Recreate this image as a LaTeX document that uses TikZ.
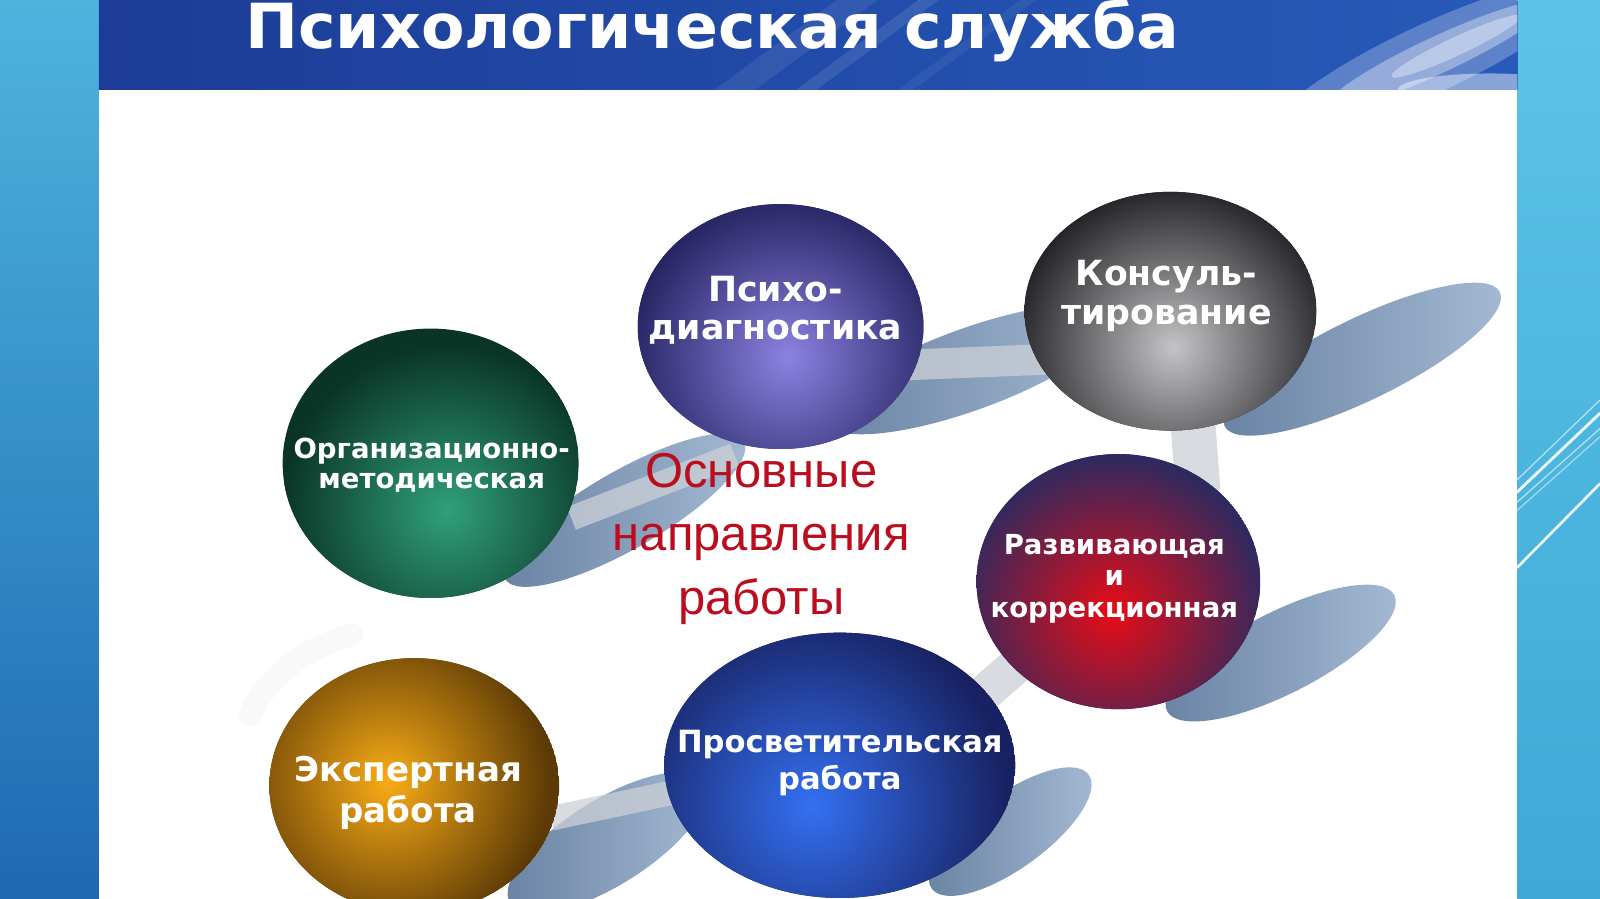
\documentclass[tikz,border=0pt]{standalone}
\usepackage{fontspec}
\setmainfont{DejaVu Sans}
\newfontfamily\arialfont{Liberation Sans}
\usetikzlibrary{calc}
\definecolor{lstripTop}{RGB}{78,180,222}
\definecolor{lstripBot}{RGB}{30,105,178}
\definecolor{rstripTop}{RGB}{92,196,230}
\definecolor{rstripBot}{RGB}{62,168,216}
\definecolor{tbL}{RGB}{28,60,150}
\definecolor{tbM}{RGB}{34,78,172}
\definecolor{tbR}{RGB}{40,90,185}
\definecolor{shDark}{RGB}{104,130,162}
\definecolor{shLight}{RGB}{165,186,212}
\definecolor{bandGray}{RGB}{204,208,214}
\definecolor{psyIn}{RGB}{140,130,226}
\definecolor{psyOut}{RGB}{38,36,98}
\definecolor{conIn}{RGB}{196,196,198}
\definecolor{conOut}{RGB}{34,34,38}
\definecolor{grnIn}{RGB}{48,160,122}
\definecolor{grnOut}{RGB}{10,52,38}
\definecolor{redIn}{RGB}{232,12,22}
\definecolor{redOut}{RGB}{44,42,96}
\definecolor{orgIn}{RGB}{250,172,22}
\definecolor{orgOut}{RGB}{92,58,6}
\definecolor{bluIn}{RGB}{52,112,242}
\definecolor{bluOut}{RGB}{24,34,98}
\definecolor{mainRed}{RGB}{186,14,30}
\tikzset{
  band/.style={line width=#1, color=bandGray, opacity=0.75},
  balltext/.style={text=white, align=center, inner sep=0pt, font=\bfseries},
  shadowfill/.style={left color=shDark, right color=shLight},
  deco/.style={white, line cap=round},
}
% name, cx, cy, rx, ry, hx, hy, inner, outer
\newcommand\drawball[9]{%
  \coordinate (#1) at (#2,#3);
  \begin{scope}
    \clip (#2,#3) ellipse ({#4} and {#5});
    \fill[#9] (#2,#3) ellipse ({#4} and {#5});
    \shade[inner color=#8, outer color=#9] (#6,#7) circle ({1.12*#4});
  \end{scope}}
% cx, cy, angle, a, b
\newcommand\drawshadow[5]{%
  \begin{scope}[shift={(#1,#2)}, rotate=#3]
    \shade[shadowfill] (0,0) ellipse ({#4} and {#5});
  \end{scope}}
\begin{document}
\begin{tikzpicture}[x=0.5pt,y=-0.5pt]
\useasboundingbox (0,0) rectangle (1568,881);
\clip (0,0) rectangle (1568,881);
% side strips and slide
\shade[top color=lstripTop, bottom color=lstripBot] (0,0) rectangle (97,881);
\shade[top color=rstripTop, bottom color=rstripBot] (1487,0) rectangle (1568,881);
\fill[white] (97,88) rectangle (1487,881);
% decorative lines on the right strip
\draw[deco, line width=0.6pt, opacity=0.6] (1487,470) -- (1568,392);
\draw[deco, line width=1.4pt, opacity=0.9] (1487,482) -- (1568,405);
\draw[deco, line width=0.6pt, opacity=0.6] (1487,492) -- (1568,420);
\draw[deco, line width=0.6pt, opacity=0.5] (1487,500) -- (1568,428);
\draw[deco, line width=1.3pt, opacity=0.9] (1487,556) -- (1568,474);
% title bar
\begin{scope}
  \clip (97,0) rectangle (1487,88);
  \shade[left color=tbL, right color=tbM] (97,0) rectangle (900,88);
  \shade[left color=tbM, right color=tbR] (900,0) rectangle (1487,88);
  \fill[white, opacity=0.08] (700,88) -- (820,0) -- (860,0) -- (740,88) -- cycle;
  \fill[white, opacity=0.10] (780,88) -- (900,0) -- (920,0) -- (800,88) -- cycle;
  \fill[white, opacity=0.06] (880,88) -- (1000,0) -- (1015,0) -- (895,88) -- cycle;
  \begin{scope}[shift={(1400,58)}, rotate=25]
    \fill[white, opacity=0.25] (0,0) ellipse (170 and 34);
    \fill[white, opacity=0.35] (10,0) ellipse (120 and 18);
    \fill[white, opacity=0.35] (30,0) ellipse (70 and 9);
  \end{scope}
  \fill[white, opacity=0.45] (1460,88) ellipse (90 and 16);
\end{scope}
\node[anchor=base west, inner sep=0pt, text=white,
      font=\bfseries\fontsize{29}{34}\selectfont] (title) at (240,48)
      {\scalebox{1.07}[1.05]{Психологическая служба}};
% faint swirl on the slide
\draw[line width=11pt, color=gray!5, line cap=round] (245,700) .. controls (265,660) and (300,635) .. (345,622);
% shadows
\drawshadow{612}{500}{30}{135}{38}
\drawshadow{950}{362}{20}{150}{40}
\drawshadow{1335}{352}{26}{150}{40}
\drawshadow{1255}{640}{27}{125}{40}
\drawshadow{990}{815}{36}{95}{36}
\drawshadow{595}{826}{32}{112}{42}
% connector bands between spheres
\coordinate (gpA) at (560,508); \coordinate (gpB) at (720,446);
\coordinate (pcA) at (880,358); \coordinate (pcB) at (1030,352);
\coordinate (crA) at (1168,400); \coordinate (crB) at (1174,482);
\coordinate (rbA) at (1010,640); \coordinate (rbB) at (950,692);
\coordinate (obA) at (540,802); \coordinate (obB) at (700,768);
\draw[band=12pt] (gpA) -- (gpB);
\draw[band=15pt] (pcA) -- (pcB);
\draw[band=22pt] (crA) -- (crB);
\draw[band=18pt] (rbA) -- (rbB);
\draw[band=12pt] (obA) -- (obB);
% spheres
\drawball{psy}{765}{320}{140}{120}{772}{350}{psyIn}{psyOut}
\drawball{con}{1147}{305}{143}{117}{1150}{340}{conIn}{conOut}
\drawball{grn}{422}{454}{145}{132}{438}{500}{grnIn}{grnOut}
\drawball{red}{1096}{570}{139}{125}{1090}{600}{redIn}{redOut}
\drawball{org}{406}{770}{142}{125}{380}{765}{orgIn}{orgOut}
\drawball{blu}{823}{750}{172}{130}{795}{790}{bluIn}{bluOut}
% labels
\node[balltext, font=\bfseries\fontsize{17}{19}\selectfont] (psyT) at (760,304) {Психо-\\диагностика};
\node[balltext, font=\bfseries\fontsize{17}{19.5}\selectfont] (conT) at (1143,290) {Консуль-\\тирование};
\node[balltext, font=\bfseries\fontsize{13.5}{15}\selectfont] (grnT) at (423,456) {Организационно-\\методическая};
\node[balltext, font=\bfseries\fontsize{13.5}{15.5}\selectfont] (redT) at (1092,567) {Развивающая\\и\\коррекционная};
\node[balltext, font=\bfseries\fontsize{16.7}{20}\selectfont] (orgT) at (400,777) {Экспертная\\работа};
\node[balltext, font=\bfseries\fontsize{15}{18}\selectfont] (bluT) at (823,748) {Просветительская\\работа};
\node[text=mainRed, align=center, inner sep=0pt, font=\arialfont\fontsize{24}{31}\selectfont] (centre) at (746,528) {Основные\\направления\\работы};
\end{tikzpicture}
\end{document}
